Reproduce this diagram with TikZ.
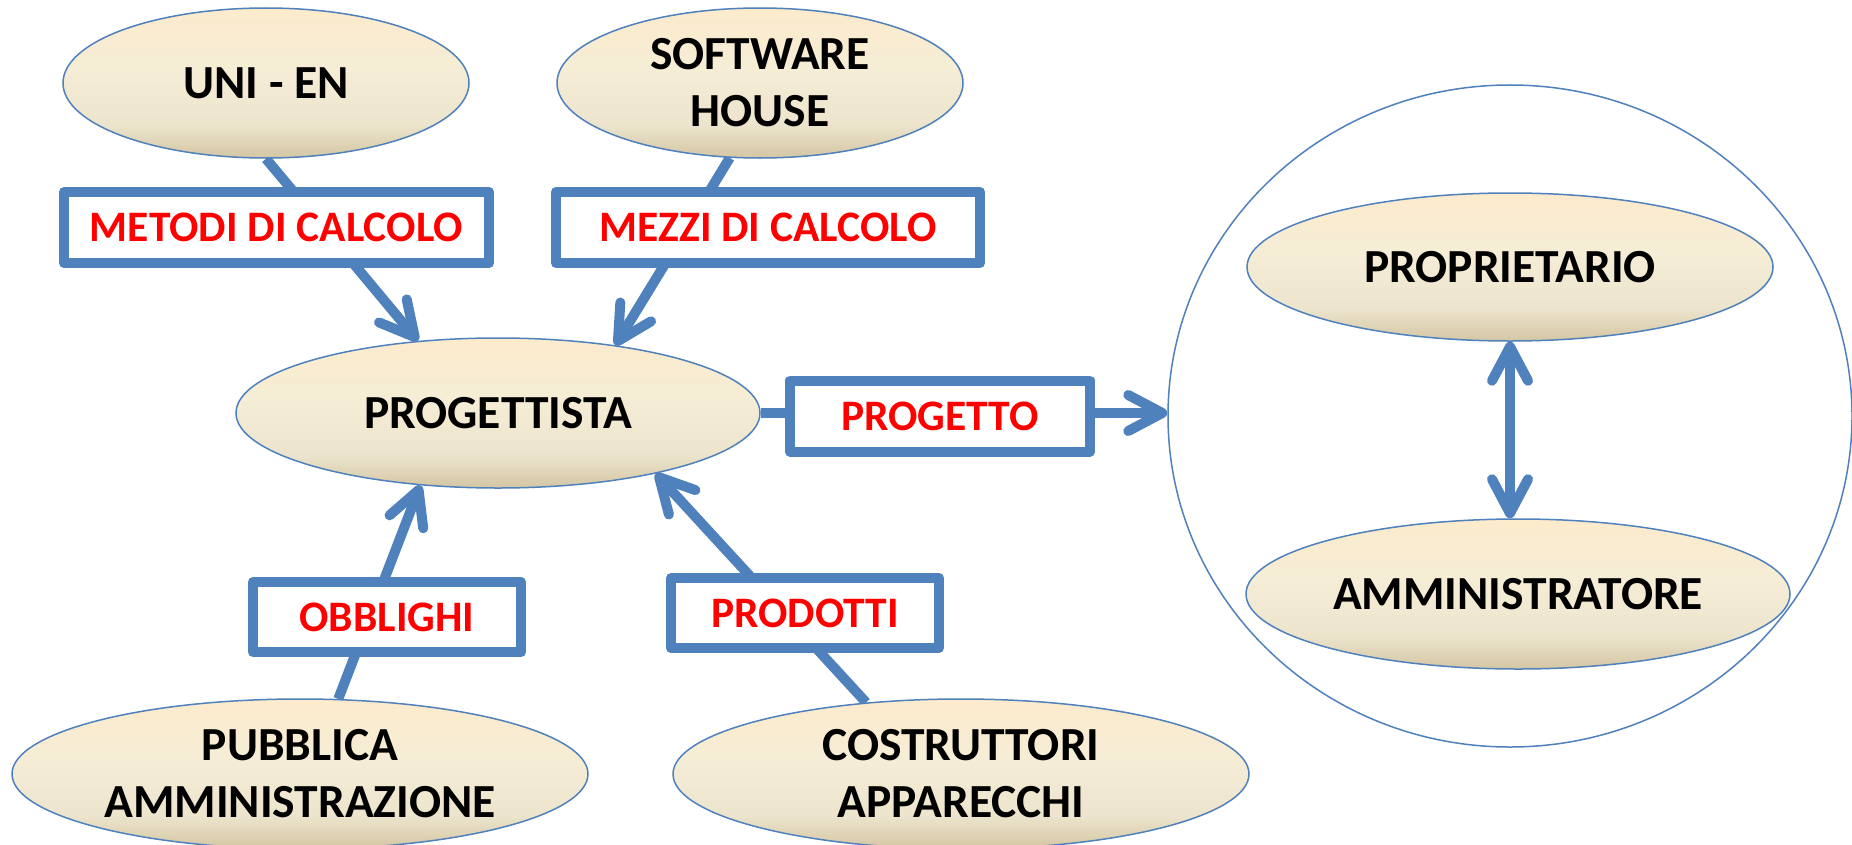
\documentclass[tikz,border=0pt]{standalone}
\usepackage{fontspec}
\setmainfont{Carlito}
\usetikzlibrary{arrows.meta,shapes.geometric}
\pgfdeclarelayer{bg}
\pgfsetlayers{bg,main}
\definecolor{office}{RGB}{79,129,189}
\definecolor{tantop}{RGB}{253,235,204}
\definecolor{tanmidb}{RGB}{245,237,214}
\definecolor{tanmida}{RGB}{236,228,205}
\definecolor{tanbot}{RGB}{212,198,163}
\pgfdeclareverticalshading{tanshade}{100bp}{color(0bp)=(tanbot); color(25bp)=(tanbot); color(36bp)=(tanmida); color(55bp)=(tanmidb); color(75bp)=(tantop); color(100bp)=(tantop)}
\tikzset{
  ell/.style={ellipse, draw=office, line width=1.5bp, shade, shading=tanshade, inner sep=0pt,
    font=\fontsize{47.5bp}{57bp}\selectfont\bfseries, align=center, text=black},
  lab/.style={rectangle, draw=office, line width=10bp, line join=round, fill=white, inner sep=0pt,
    text=red, font=\fontsize{43.5bp}{50bp}\selectfont\bfseries},
  conn/.style={draw=office, line width=10bp, -{Straight Barb[length=34bp,width=36bp,round]}},
  connb/.style={draw=office, line width=10bp, {Straight Barb[length=34bp,width=36bp,round]}-{Straight Barb[length=34bp,width=36bp,round]}}
}
\begin{document}
\begin{tikzpicture}[x=1bp,y=-1bp]
\begin{pgfonlayer}{bg}
\fill[white] (0,0) rectangle (1852,845);
\end{pgfonlayer}
\useasboundingbox (0,0) rectangle (1852,845);
% outer circle
\node[ellipse, draw=office, line width=1.5bp, minimum width=684bp, minimum height=662bp, inner sep=0pt] (big) at (1510,416) {};
% ellipses
\node[ell, minimum width=406bp, minimum height=150bp] (uni) at (266,83) {UNI - EN};
\node[ell, minimum width=406bp, minimum height=150bp] (sh) at (760,83) {SOFTWARE\\HOUSE};
\node[ell, minimum width=524bp, minimum height=150bp] (prog) at (498,413) {PROGETTISTA};
\node[ell, minimum width=576bp, minimum height=150bp] (pub) at (300,774) {PUBBLICA\\AMMINISTRAZIONE};
\node[ell, minimum width=576bp, minimum height=150bp] (cost) at (961,774) {COSTRUTTORI\\APPARECCHI};
\node[ell, minimum width=526bp, minimum height=148bp] (prop) at (1510,267) {PROPRIETARIO};
\node[ell, minimum width=544bp, minimum height=150bp] (amm) at (1518,594) {AMMINISTRATORE};
% label boxes
\node[lab, minimum width=425bp, minimum height=71bp] (metodi) at (276.5,227.5) {METODI DI CALCOLO};
\node[lab, minimum width=424bp, minimum height=71bp] (mezzi) at (768,227.5) {MEZZI DI CALCOLO};
\node[lab, minimum width=300bp, minimum height=71bp] (progetto) at (940,416) {PROGETTO};
\node[lab, minimum width=268bp, minimum height=70bp] (obblighi) at (387,617) {OBBLIGHI};
\node[lab, minimum width=268bp, minimum height=70bp] (prodotti) at (805,613) {PRODOTTI};
% connectors
\begin{pgfonlayer}{bg}
\draw[conn] (uni.south) -- (prog.138);
\draw[conn] (sh.-112) -- (prog.30);
\draw[conn] (pub.63) -- (prog.-137);
\draw[conn] (cost.143) -- (prog.-21);
\draw[conn] (prog.east) -- (prog.east -| big.west);
\draw[connb] (prop.south) -- (prop.south |- amm.north);
\end{pgfonlayer}
\end{tikzpicture}
\end{document}
